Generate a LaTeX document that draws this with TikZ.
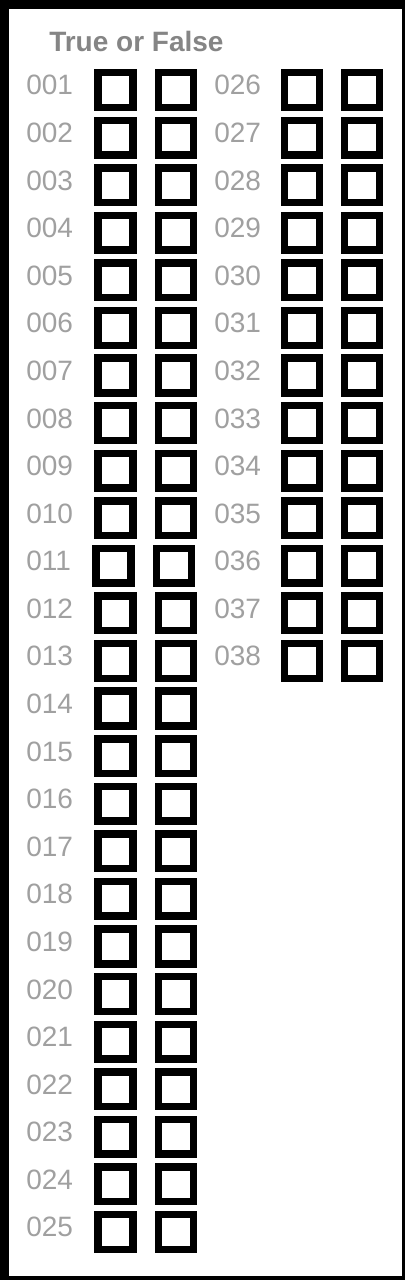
\documentclass[tikz,border=0pt]{standalone}
\usepackage{fontspec}
\setmainfont{Liberation Sans}
\usetikzlibrary{positioning}
\definecolor{numgray}{HTML}{A0A0A0}
\definecolor{titlegray}{HTML}{858585}
\tikzset{
	tickbox/.style={draw=black, line width=5.6pt, minimum size=26pt, inner sep=0pt},
	numlabel/.style={anchor=base west, inner sep=0pt, text=numgray, font=\fontsize{21}{21}\selectfont},
	titlelabel/.style={anchor=base west, inner sep=0pt, text=titlegray, font=\bfseries\fontsize{21}{21}\selectfont},
}

\begin{document}
\begin{tikzpicture}[x=0.75pt, y=-0.75pt]
		%%%%% FRAME %%%%%
		
		\fill[black] (0, 0) rectangle (405, 1280);
		\fill[white] (9, 9) rectangle (402, 1276);
		
		\node[titlelabel] (title) at (49, 52) {True or False};
		
		%%%%% LEFT %%%%%
		
		\foreach \i in {1,...,25} {
			\pgfmathsetmacro{\yc}{90+(\i-1)*47.58}
			\pgfmathsetmacro{\sh}{\i==11 ? -2 : 0}
			\node[numlabel] (n\i) at (26, \yc+5) {\ifnum\i<10 00\else 0\fi\i};
			\node[tickbox] (t\i) at (115.5+\sh, \yc) {};
			\node[tickbox] (f\i) at (176+\sh, \yc) {};
		}
		
		%%%%% RIGHT %%%%%
		
		\foreach \i in {26,...,38} {
			\pgfmathsetmacro{\yc}{90+(\i-26)*47.58}
			\node[numlabel] (n\i) at (214, \yc+5) {0\i};
			\node[tickbox] (t\i) at (302, \yc) {};
			\node[tickbox] (f\i) at (362, \yc) {};
		}
		
		%%%%% END %%%%%
\end{tikzpicture}
\end{document}
